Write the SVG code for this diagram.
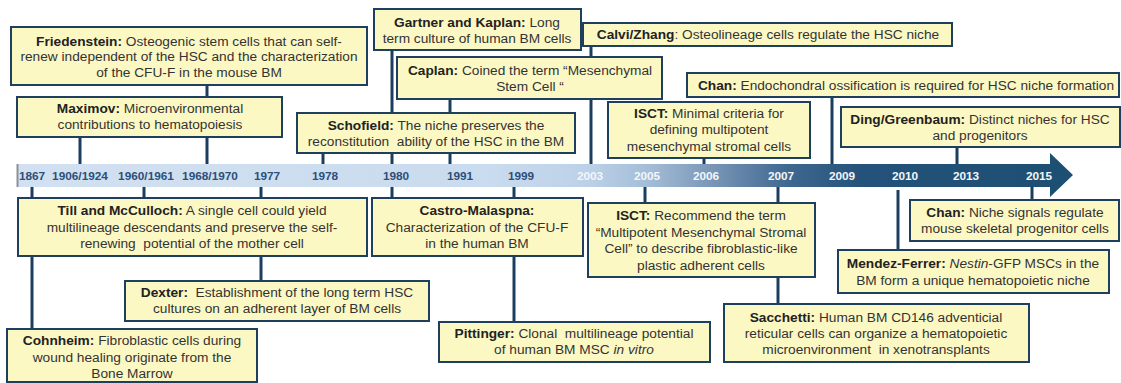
<svg xmlns="http://www.w3.org/2000/svg" width="1121" height="383" viewBox="0 0 1121 383">
<style>
.box{fill:#fcf8c3;stroke:#1f3f5e;stroke-width:2}
.t{font-family:"Liberation Sans",Arial,sans-serif;font-size:13.7px;fill:#333;text-anchor:middle}
.b{font-weight:bold;fill:#222}
.i{font-style:italic}
.yr{font-family:"Liberation Sans",Arial,sans-serif;font-size:11.8px;font-weight:bold;text-anchor:middle;fill:#2d4f78}
.yw{fill:#f2f6fa}
.c{stroke:#1c3e5e;stroke-width:3;fill:none}
</style>
<defs>
<linearGradient id="bar" x1="17" y1="0" x2="1073" y2="0" gradientUnits="userSpaceOnUse">
<stop offset="0" stop-color="#d2e1f1"/>
<stop offset="0.45" stop-color="#c9dbee"/>
<stop offset="0.54" stop-color="#bcd1e8"/>
<stop offset="0.6" stop-color="#a3bcd6"/>
<stop offset="0.66" stop-color="#7895b6"/>
<stop offset="0.73" stop-color="#3f6890"/>
<stop offset="0.8" stop-color="#24527a"/>
<stop offset="1" stop-color="#1d4f72"/>
</linearGradient>
</defs>
<g id="timeline">
<path d="M17,164 H1050 V153 L1073,175 L1050,197 V187 H17 Z" fill="url(#bar)"/>
<line x1="17.5" y1="164" x2="17.5" y2="187" stroke="#8c9098" stroke-width="2"/>
<text class="yr" x="32" y="180">1867</text>
<text class="yr" x="80" y="180">1906/1924</text>
<text class="yr" x="146" y="180">1960/1961</text>
<text class="yr" x="210" y="180">1968/1970</text>
<text class="yr" x="267" y="180">1977</text>
<text class="yr" x="325" y="180">1978</text>
<text class="yr" x="396" y="180">1980</text>
<text class="yr" x="460" y="180">1991</text>
<text class="yr" x="521" y="180">1999</text>
<text class="yr yw" x="590" y="180">2003</text>
<text class="yr yw" x="647" y="180">2005</text>
<text class="yr yw" x="706" y="180">2006</text>
<text class="yr yw" x="781" y="180">2007</text>
<text class="yr yw" x="842" y="180">2009</text>
<text class="yr yw" x="905" y="180">2010</text>
<text class="yr yw" x="966" y="180">2013</text>
<text class="yr yw" x="1039" y="180">2015</text>
</g>
<g id="connectors">
<line class="c" x1="80" y1="137" x2="80" y2="164"/>
<line class="c" x1="207" y1="85" x2="207" y2="164"/>
<line class="c" x1="323" y1="153" x2="323" y2="164"/>
<line class="c" x1="392" y1="50" x2="392" y2="164"/>
<line class="c" x1="450" y1="99" x2="450" y2="164"/>
<line class="c" x1="591" y1="46" x2="591" y2="164"/>
<line class="c" x1="704" y1="158" x2="704" y2="164"/>
<line class="c" x1="832" y1="97" x2="832" y2="164"/>
<line class="c" x1="957" y1="147" x2="957" y2="164"/>
<line class="c" x1="32" y1="187" x2="32" y2="329"/>
<line class="c" x1="144" y1="187" x2="144" y2="198"/>
<line class="c" x1="261" y1="187" x2="261" y2="281"/>
<line class="c" x1="392" y1="187" x2="392" y2="198"/>
<line class="c" x1="514" y1="187" x2="514" y2="322"/>
<line class="c" x1="645" y1="187" x2="645" y2="203"/>
<line class="c" x1="778" y1="187" x2="778" y2="304"/>
<line class="c" x1="898" y1="190" x2="898" y2="250"/>
<line class="c" x1="1032" y1="187" x2="1032" y2="200"/>
</g>
<g id="friedenstein">
<rect class="box" x="11" y="27" width="356" height="58"/>
<text class="t" x="189" y="46"><tspan class="b">Friedenstein:</tspan> Osteogenic stem cells that can self-</text>
<text class="t" x="189" y="61">renew independent of the HSC and the characterization</text>
<text class="t" x="189" y="77">of the CFU-F in the mouse BM</text>
</g>
<g id="maximov">
<rect class="box" x="17" y="97" width="265" height="40"/>
<text class="t" x="150" y="113"><tspan class="b">Maximov:</tspan> Microenvironmental</text>
<text class="t" x="150" y="129">contributions to hematopoiesis</text>
</g>
<g id="schofield">
<rect class="box" x="297" y="113" width="278" height="40"/>
<text class="t" x="436" y="130"><tspan class="b">Schofield:</tspan> The niche preserves the</text>
<text class="t" x="436" y="146" xml:space="preserve">reconstitution  ability of the HSC in the BM</text>
</g>
<g id="gartner">
<rect class="box" x="374" y="9" width="207" height="41"/>
<text class="t" x="477" y="27"><tspan class="b">Gartner and Kaplan:</tspan> Long</text>
<text class="t" x="477" y="43">term culture of human BM cells</text>
</g>
<g id="calvi">
<rect class="box" x="583" y="23" width="369" height="23"/>
<text class="t" x="768" y="39"><tspan class="b">Calvi/Zhang</tspan>: Osteolineage cells regulate the HSC niche</text>
</g>
<g id="caplan">
<rect class="box" x="397" y="57" width="265" height="42"/>
<text class="t" x="530" y="75"><tspan class="b">Caplan:</tspan> Coined the term “Mesenchymal</text>
<text class="t" x="530" y="91">Stem Cell “</text>
</g>
<g id="chan-endochondral">
<rect class="box" x="687" y="73" width="432" height="24"/>
<text class="t" x="906" y="90"><tspan class="b">Chan:</tspan> Endochondral ossification is required for HSC niche formation</text>
</g>
<g id="isct-minimal">
<rect class="box" x="608" y="102" width="202" height="56"/>
<text class="t" x="709" y="118"><tspan class="b">ISCT:</tspan> Minimal criteria for</text>
<text class="t" x="709" y="134">defining multipotent</text>
<text class="t" x="709" y="151">mesenchymal stromal cells</text>
</g>
<g id="ding">
<rect class="box" x="841" y="107" width="279" height="40"/>
<text class="t" x="980" y="124"><tspan class="b">Ding/Greenbaum:</tspan> Distinct niches for HSC</text>
<text class="t" x="980" y="140">and progenitors</text>
</g>
<g id="till">
<rect class="box" x="18" y="198" width="349" height="58"/>
<text class="t" x="192" y="215"><tspan class="b">Till and McCulloch:</tspan> A single cell could yield</text>
<text class="t" x="192" y="232">multilineage descendants and preserve the self-</text>
<text class="t" x="192" y="248" xml:space="preserve">renewing  potential of the mother cell</text>
</g>
<g id="castro">
<rect class="box" x="372" y="198" width="211" height="58"/>
<text class="t b" x="477" y="215">Castro-Malaspna:</text>
<text class="t" x="477" y="232">Characterization of the CFU-F</text>
<text class="t" x="477" y="248">in the human BM</text>
</g>
<g id="isct-recommend">
<rect class="box" x="588" y="203" width="227" height="74"/>
<text class="t" x="701" y="220"><tspan class="b">ISCT:</tspan> Recommend the term</text>
<text class="t" x="701" y="237">“Multipotent Mesenchymal Stromal</text>
<text class="t" x="701" y="253">Cell” to describe fibroblastic-like</text>
<text class="t" x="701" y="270">plastic adherent cells</text>
</g>
<g id="chan-niche">
<rect class="box" x="910" y="200" width="209" height="41"/>
<text class="t" x="1015" y="217"><tspan class="b">Chan:</tspan> Niche signals regulate</text>
<text class="t" x="1015" y="233">mouse skeletal progenitor cells</text>
</g>
<g id="mendez">
<rect class="box" x="838" y="250" width="271" height="43"/>
<text class="t" x="973" y="268"><tspan class="b">Mendez-Ferrer:</tspan> <tspan class="i">Nestin</tspan>-GFP MSCs in the</text>
<text class="t" x="973" y="285">BM form a unique hematopoietic niche</text>
</g>
<g id="sacchetti">
<rect class="box" x="724" y="304" width="305" height="58"/>
<text class="t" x="876" y="322"><tspan class="b">Sacchetti:</tspan> Human BM CD146 adventicial</text>
<text class="t" x="876" y="338">reticular cells can organize a hematopoietic</text>
<text class="t" x="876" y="354" xml:space="preserve">microenvironment  in xenotransplants</text>
</g>
<g id="dexter">
<rect class="box" x="125" y="281" width="304" height="40"/>
<text class="t" x="277" y="297" xml:space="preserve"><tspan class="b">Dexter:</tspan>  Establishment of the long term HSC</text>
<text class="t" x="277" y="313">cultures on an adherent layer of BM cells</text>
</g>
<g id="pittinger">
<rect class="box" x="439" y="322" width="271" height="40"/>
<text class="t" x="574" y="338" xml:space="preserve"><tspan class="b">Pittinger:</tspan> Clonal  multilineage potential</text>
<text class="t" x="574" y="354">of human BM MSC <tspan class="i">in vitro</tspan></text>
</g>
<g id="cohnheim">
<rect class="box" x="7" y="329" width="250" height="53"/>
<text class="t" x="132" y="345"><tspan class="b">Cohnheim:</tspan> Fibroblastic cells during</text>
<text class="t" x="132" y="362">wound healing originate from the</text>
<text class="t" x="132" y="378">Bone Marrow</text>
</g>
</svg>
